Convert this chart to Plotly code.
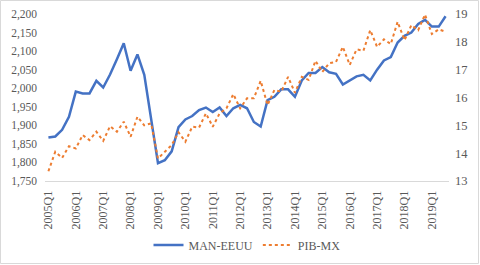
import plotly.graph_objects as go

years = list(range(2005, 2020))
quarters = [f"{y}Q{q}" for y in years for q in range(1, 5)][:59]  # 2005Q1 .. 2019Q3

man_eeuu = [1867, 1870, 1888, 1923, 1991, 1986, 1986, 2020, 2002, 2037,
            2078, 2121, 2047, 2091, 2036, 1920, 1798, 1806, 1830, 1895,
            1916, 1925, 1941, 1948, 1936, 1948, 1925, 1946, 1955, 1946,
            1909, 1897, 1968, 1977, 1997, 1997, 1977, 2021, 2041, 2041,
            2057, 2043, 2039, 2010, 2021, 2032, 2036, 2021, 2050, 2075,
            2084, 2123, 2141, 2150, 2173, 2184, 2166, 2166, 2194]

pib_mx = [13.35, 14.05, 13.83, 14.25, 14.17, 14.65, 14.47, 14.77, 14.44, 14.97,
          14.77, 15.13, 14.59, 15.31, 15.00, 15.07, 13.81, 14.05, 14.29, 14.75,
          14.41, 14.95, 14.92, 15.43, 14.95, 15.43, 15.61, 16.12, 15.61, 15.97,
          15.97, 16.60, 15.73, 16.27, 16.21, 16.74, 16.17, 16.74, 16.63, 17.32,
          16.92, 17.23, 17.28, 17.82, 17.17, 17.73, 17.68, 18.42, 17.82, 18.09,
          17.92, 18.72, 18.06, 18.60, 18.42, 18.98, 18.28, 18.45, 18.36]

left_ticks = [1750, 1800, 1850, 1900, 1950, 2000, 2050, 2100, 2150, 2200]
right_ticks = [13, 14, 15, 16, 17, 18, 19]
xtick_labels = quarters[::4]

FONT = "Liberation Serif, Times New Roman, serif"
GRAY = "#595959"

fig = go.Figure()
fig.add_trace(go.Scatter(x=quarters, y=man_eeuu, name="MAN-EEUU", mode="lines",
                         line=dict(color="#4472C4", width=2.5), yaxis="y"))
fig.add_trace(go.Scatter(x=quarters, y=pib_mx, name="PIB-MX", mode="lines",
                         line=dict(color="#ED7D31", width=2, dash="dot"), yaxis="y2"))

L, R, T, B = 45, 449, 14, 181
W, H = R - L, B - T

fig.update_layout(
    width=480, height=265,
    margin=dict(l=L, r=480 - R, t=T, b=265 - B, autoexpand=False),
    paper_bgcolor="white", plot_bgcolor="white",
    font=dict(family=FONT, color=GRAY, size=12),
    showlegend=True,
    legend=dict(orientation="h", x=0.5, xanchor="center",
                y=(B - 245) / H, yanchor="middle",
                font=dict(family=FONT, color=GRAY, size=12),
                itemwidth=30, tracegroupgap=0),
    xaxis=dict(type="category", range=[-0.5, len(quarters) - 0.5],
               tickmode="array", tickvals=xtick_labels, ticktext=xtick_labels,
               tickangle=-90, showgrid=False, zeroline=False, automargin=False,
               showline=True, linecolor="#D9D9D9", linewidth=1,
               ticks="", tickfont=dict(family=FONT, color=GRAY, size=12),
               ticklabelstandoff=4),
    yaxis=dict(range=[1750, 2200], tickvals=left_ticks,
               ticktext=[f"{v:,}" for v in left_ticks], automargin=False,
               showgrid=False, zeroline=False, showline=False, ticks="",
               tickfont=dict(family=FONT, color=GRAY, size=11.5),
               ticklabelstandoff=7),
    yaxis2=dict(range=[13, 19], tickvals=right_ticks, overlaying="y", side="right",
                showgrid=False, zeroline=False, showline=False, ticks="",
                automargin=False,
                tickfont=dict(family=FONT, color=GRAY, size=12.5),
                ticklabelstandoff=5),
    shapes=[dict(type="rect", xref="paper", yref="paper",
                 x0=(0.5 - L) / W, x1=(478.5 - L) / W,
                 y0=(B - 263.5) / H, y1=(B - 0.5) / H,
                 line=dict(color="#D9D9D9", width=1), fillcolor="rgba(0,0,0,0)",
                 layer="below")],
)

fig.write_html("out.html", config={"displayModeBar": False, "staticPlot": True},
               post_script="document.body.style.margin='0';document.body.style.overflow='hidden';")
